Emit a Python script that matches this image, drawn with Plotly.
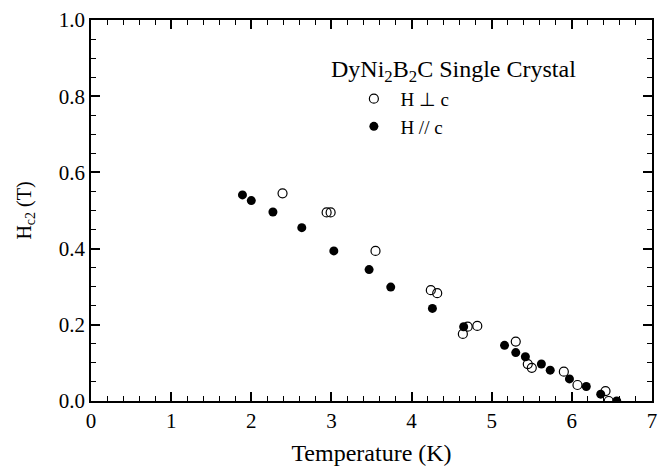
import plotly.graph_objects as go

# H perpendicular to c (open circles)
t_perp = [2.39, 2.94, 2.99, 3.55, 4.24, 4.32, 4.64, 4.70, 4.82, 5.30, 5.45, 5.50, 5.90, 6.07, 6.42, 6.46]
h_perp = [0.545, 0.495, 0.495, 0.394, 0.291, 0.283, 0.176, 0.195, 0.197, 0.156, 0.097, 0.087, 0.077, 0.042, 0.026, 0.0]

# H parallel to c (filled circles)
t_par = [1.89, 2.00, 2.27, 2.63, 3.03, 3.47, 3.74, 4.26, 4.65, 5.16, 5.30, 5.42, 5.62, 5.73, 5.97, 6.18, 6.36, 6.56]
h_par = [0.541, 0.526, 0.496, 0.455, 0.394, 0.345, 0.299, 0.243, 0.195, 0.146, 0.127, 0.116, 0.097, 0.081, 0.058, 0.038, 0.018, 0.0]

x_ticks = [0, 1, 2, 3, 4, 5, 6, 7]
y_ticks = [0.0, 0.2, 0.4, 0.6, 0.8, 1.0]

FONT = "Liberation Serif"

fig = go.Figure()
fig.add_trace(go.Scatter(
    x=t_perp, y=h_perp, mode="markers", name="H \u22a5 c",
    marker=dict(symbol="circle-open", size=9, color="black", line=dict(width=1.2, color="black")),
))
fig.add_trace(go.Scatter(
    x=t_par, y=h_par, mode="markers", name="H // c",
    marker=dict(symbol="circle", size=9, color="black"),
))

axis_common = dict(
    showline=True, linecolor="black", linewidth=1.5, mirror="ticks",
    ticks="inside", ticklen=9, tickwidth=1.5, tickcolor="black",
    showgrid=False, zeroline=False, automargin=False,
    tickfont=dict(family=FONT, size=21, color="black"),
)

fig.update_xaxes(
    range=[0, 7], tickvals=x_ticks, ticktext=[str(v) for v in x_ticks],
    minor=dict(dtick=0.2, ticks="inside", ticklen=5, tickwidth=1.2, tickcolor="black", showgrid=False),
    title=dict(text="Temperature (K)", font=dict(family=FONT, size=24, color="black")),
    **axis_common,
)
fig.update_yaxes(
    range=[0, 1.0], tickvals=y_ticks, ticktext=[f"{v:.1f}" for v in y_ticks],
    minor=dict(dtick=0.05, ticks="inside", ticklen=5, tickwidth=1.2, tickcolor="black", showgrid=False),
    title=dict(text="H<sub>c2</sub> (T)", font=dict(family=FONT, size=20, color="black"), standoff=22),
    **axis_common,
)

fig.add_annotation(
    xref="paper", yref="paper", x=0.425, y=0.867, xanchor="left", yanchor="middle",
    text="DyNi<sub>2</sub>B<sub>2</sub>C Single Crystal", showarrow=False,
    font=dict(family=FONT, size=24, color="black"),
)

fig.update_layout(
    width=659, height=458,
    margin=dict(l=83, r=15, t=12, b=65),
    paper_bgcolor="white", plot_bgcolor="white",
    showlegend=True,
    legend=dict(
        x=0.457, y=0.843, xanchor="left", yanchor="top",
        bgcolor="rgba(0,0,0,0)", borderwidth=0,
        font=dict(family=FONT, size=19, color="black"),
        itemwidth=43, tracegroupgap=0,
    ),
    font=dict(family=FONT, color="black"),
)

fig.write_html("out.html")
